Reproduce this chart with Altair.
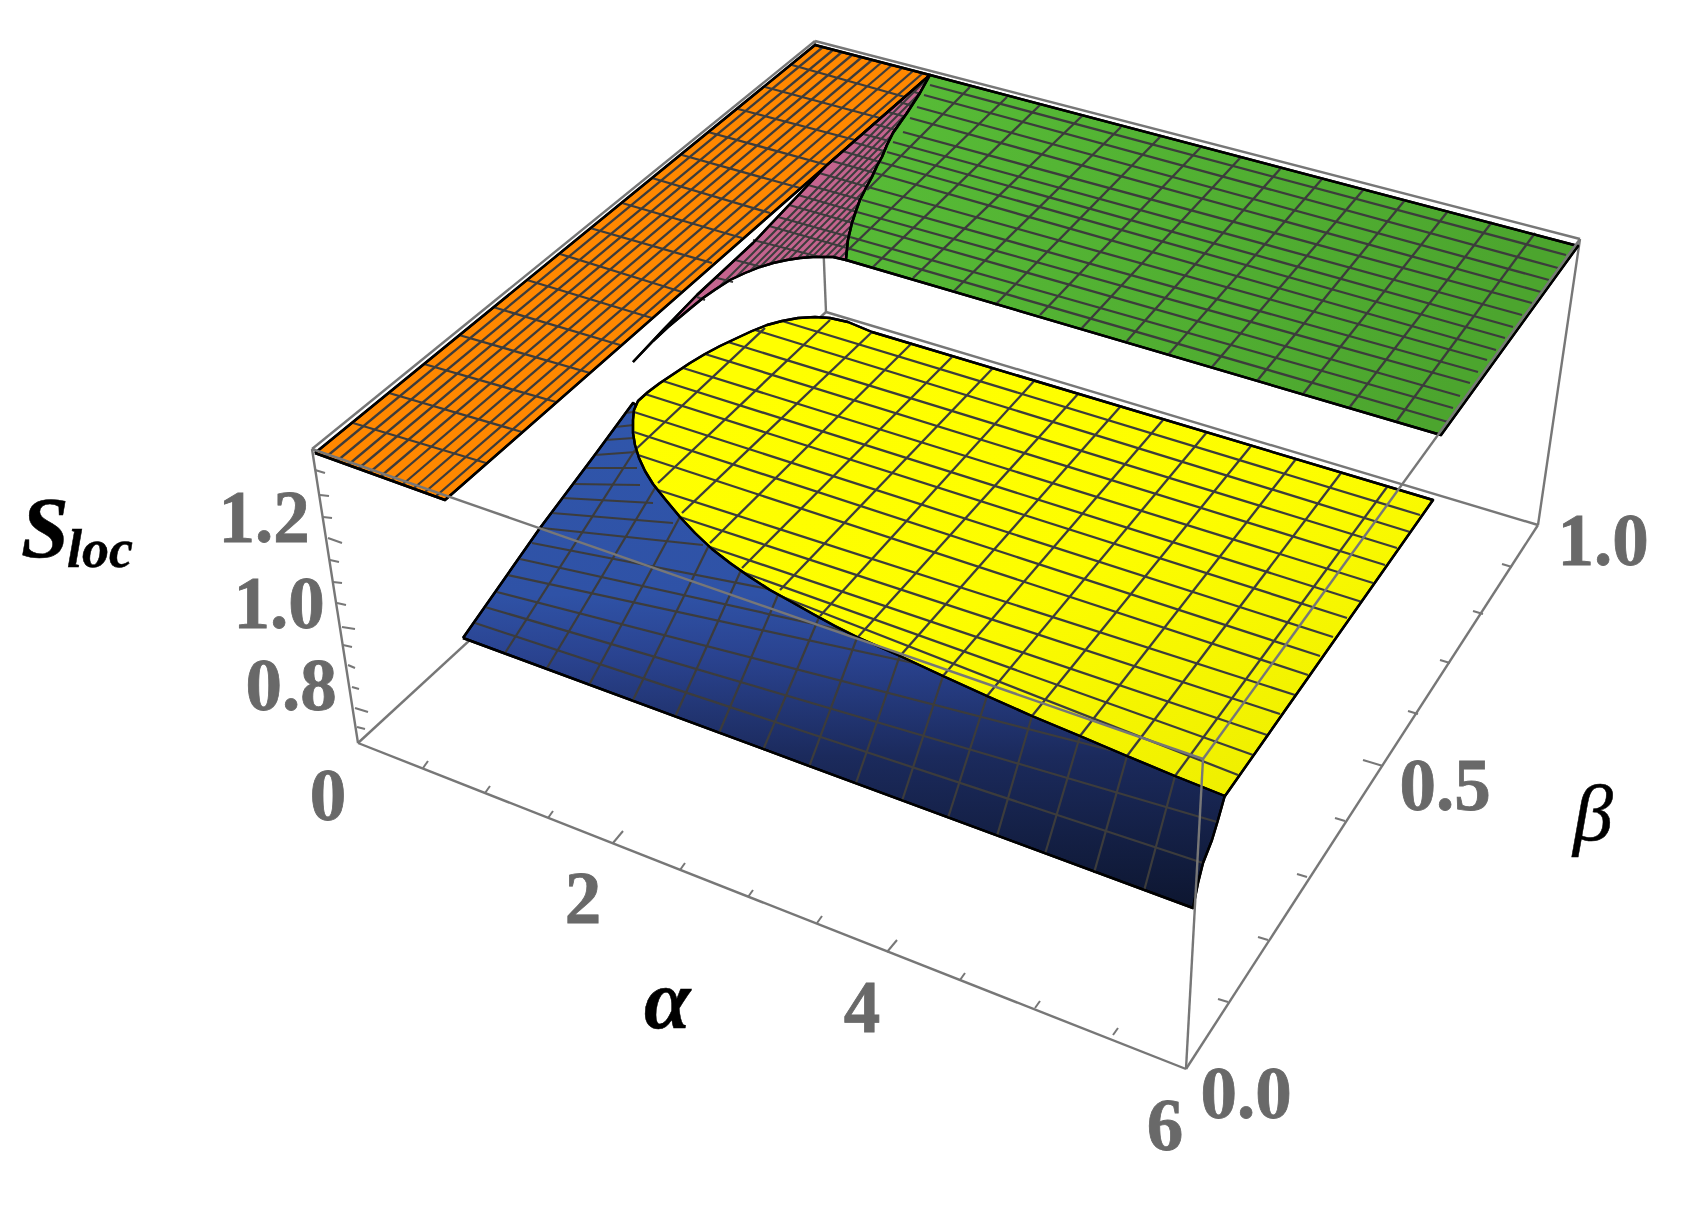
import altair as alt
import pandas as pd

box_back = [(312,449,815,41),(815,41,1580,239),(312,449,358,743),(358,743,826,312),
            (826,312,1538,525),(826,312,815,41),(1580,239,1538,525)]
box_front = [(312,449,1203,759),(1203,759,1580,239),(1203,759,1186,1069),
             (358,743,1186,1069),(1186,1069,1538,525)]

orange_poly = [(315,453),(815,45),(930,75),(445,500)]
orange_beta = [(792,65,905,97),(765,87,880,118),(738,109,855,140),(708,132,827,165),(682,155,800,188),
               (652,178,770,213),(622,203,742,238),(590,228,712,263),(560,254,682,292),(527,280,652,318),
               (493,307,620,345),(459,335,590,373),(424,364,556,402),(389,393,522,432),(353,423,486,463)]
orange_alpha = [(326,457,823,47),(337,461,833,50),(348,465,842,52),(358,469,852,55),(369,473,862,57),
                (380,477,872,60),(391,481,882,62),(402,485,892,65),(413,489,902,68),(424,493,913,71),(435,497,923,73)]

purple_poly = [(633,362),(663,330),(697,295),(753,243),(827,165),(930,75),(920,93),(907,113),(900,123),(893,133),
               (887,145),(882,157),(877,166),(872,177),(866,188),(860,200),(856,211),(852,223),(848,240),(846,260),
               (833,257),(813,257),(800,258),(787,260),(773,263),(760,267),(745,273),(730,280),(716,289),(703,298),
               (692,307),(680,317),(668,327),(653,341)]
purple_alpha = [(717,289,929,77),(735,278,920,93),(749,272,907,113),(760,267,892,135),(769,265,886,148),
                (779,262,880,161),(788,260,873,175),(797,259,865,190),(805,258,859,203),(812,257,855,214),
                (819,257,852,225),(826,257,850,233),(833,257,849,241),(840,258,847,251)]
purple_beta = [(921,83,930,85),(911,91,924,95),(899,102,917,107),(888,112,910,118),(874,124,903,132),
               (863,134,893,142),(853,142,887,152),(842,151,880,162),(832,161,875,173),(819,173,868,187),
               (808,185,862,200),(798,195,857,212),(789,205,853,223),(778,217,850,237),(769,226,847,248),
               (753,240,820,257),(735,260,762,267),(717,278,733,282),(697,297,705,300)]

green_poly = [(930,75),(1578,246),(1441,435),(846,260),(848,240),(852,223),(856,211),(860,200),(866,188),(872,177),
              (877,166),(882,157),(887,145),(893,133),(900,123),(907,113),(920,93)]
green_alpha = [(867,190,970,87),(848,250,1007,97),(872,268,1040,105),(913,278,1082,116),(953,292,1121,127),
               (995,305,1161,136),(1040,315,1201,147),(1081,329,1241,157),(1126,342,1281,168),(1168,355,1322,179),
               (1212,367,1364,189),(1257,381,1405,200),(1303,394,1448,211),(1349,408,1492,222),(1396,422,1535,233)]
green_beta = [(930,85,1566,255),(924,95,1558,268),(917,107,1549,280),(910,118,1541,292),(903,132,1532,303),
              (893,142,1522,315),(887,152,1513,327),(880,162,1505,338),(875,173,1496,350),(868,187,1487,360),
              (862,200,1478,372),(857,212,1470,383),(853,223,1460,396),(850,237,1453,408),(847,248,1448,422)]

blue_poly = [(463,638),(540,528),(597,452),(633,403),(1225,795),(1218,820),(1212,840),(1203,863),(1198,883),(1193,908)]
blue_alpha = [(505,653,635,450),(547,668,658,483),(589,685,682,513),(633,700,710,543),(675,717,742,568),
              (719,733,780,590),(763,750,820,615),(809,767,858,635),(856,783,900,655),(902,801,943,676),
              (948,818,987,696),(997,836,1032,716),(1045,854,1080,736),(1094,873,1127,756),(1144,891,1175,776)]
blue_beta = [(475,623,1203,863),(485,607,1217,822),(497,592,1110,750),(508,575,918,664),(520,559,850,632),
             (532,543,773,590),(542,528,703,545),(552,513,673,523),(563,498,653,503),(573,484,640,485),
             (585,468,637,468),(595,455,636,452),(605,440,634,438),(615,427,634,425),(625,413,633,412)]

yellow_poly = [(872,332),(848,322),(830,318),(815,317),(798,318),(782,321),(767,325),(752,331),(737,338),(720,346),(705,354),
               (690,363),(675,373),(660,383),(648,392),(638,401),(634,410),(633,420),(633,433),(635,445),(639,458),(645,471),
               (653,484),(665,499),(680,517),(695,533),(712,549),(730,563),(750,577),(770,590),(790,601),(813,614),(835,626),
               (857,637),(900,656),(943,676),(987,696),(1032,716),(1080,736),(1127,756),(1175,776),(1225,796),(1433,500)]
yellow_alpha = [(635,450,765,328),(658,483,830,320),(682,513,872,332),(710,543,912,343),(742,568,952,357),
                (780,590,993,368),(820,616,1035,380),(858,637,1078,394),(900,656,1120,407),(943,676,1163,420),
                (987,696,1207,432),(1032,716,1251,446),(1080,736,1296,459),(1127,756,1341,473),(1175,776,1387,487)]
yellow_beta = [(782,321,1420,515),(755,330,1410,532),(728,342,1397,548),(705,354,1385,565),(683,368,1373,583),
               (663,381,1362,602),(645,394,1347,618),(634,412,1333,637),(634,432,1320,656),(638,455,1308,675),
               (658,490,1295,695),(680,517,1280,714),(710,547,1267,735),(742,572,1253,755),(780,596,1238,775)]

ticks = [(423,768,428,761),(485,793,490,786),(548,818,553,811),(613,843,623,831),(680,870,685,863),(748,897,753,890),
         (817,923,822,916),(887,952,897,940),(960,980,965,973),(1035,1008,1040,1001),(1113,1035,1118,1028),
         (1228,1002,1218,999),(1268,940,1258,937),(1307,877,1297,874),(1345,821,1335,818),(1383,766,1363,760),
         (1418,714,1408,711),(1450,663,1440,660),(1483,614,1473,611),(1512,567,1502,564),
         (315,470,325,473),(320,495,329,496),(323,517,332,518),(328,538,342,543),(330,560,339,562),(333,582,342,583),
         (337,603,346,605),(342,627,355,629),(343,645,352,647),(348,665,355,668),(352,687,359,689),(355,708,368,712),(357,727,365,729)]

gray_text = ["1.2","1.0","0.8","0","2","4","6","0.0","0.5","1.0"]
gray_x = [264,279,291,328,583,862,1165,1246,1445,1603]
gray_y = [542,628,710,820,923,1032,1150,1118,810,565]

names = ["S","loc","α","β"]
names_x = [21,67,644,1573]
names_y = [557,567,1028,840]
names_size = [86,54,84,80]
names_weight = ["bold","bold","bold","normal"]

W, H = 1673, 1198
xs = alt.Scale(domain=[8, 8 + W], nice=False, zero=False)
ys = alt.Scale(domain=[8 + H, 8], nice=False, zero=False)

def grad(stops, x1, y1, x2, y2):
    return alt.Gradient(gradient="linear", x1=x1, y1=y1, x2=x2, y2=y2,
                        stops=[alt.GradientStop(offset=o, color=c) for o, c in stops])

def path(verts, **mark):
    rows = [{"x": a, "y": b, "i": i} for i, (a, b) in enumerate(list(verts) + [verts[0]])]
    return alt.Chart(pd.DataFrame(rows)).mark_line(stroke="black", strokeWidth=2.4, strokeJoin="round", **mark).encode(
        x=alt.X("x:Q", scale=xs, axis=None),
        y=alt.Y("y:Q", scale=ys, axis=None),
        order="i:Q")

def segs(items, color, width):
    df = pd.DataFrame(items, columns=["x", "y", "x2", "y2"])
    return alt.Chart(df).mark_rule(color=color, strokeWidth=width).encode(
        x=alt.X("x:Q", scale=xs, axis=None),
        y=alt.Y("y:Q", scale=ys, axis=None),
        x2="x2:Q", y2="y2:Q")

MESH = "#3c3c3c"
BOX = "#777777"
layers = [
    segs(box_back, BOX, 2.4),
    path(orange_poly, fill="#ff8800"),
    segs(orange_alpha, MESH, 2.3), segs(orange_beta, MESH, 2.3), path(orange_poly),
    path(purple_poly, fill="#c4648e"),
    segs(purple_alpha, MESH, 2.0), segs(purple_beta, MESH, 2.0), path(purple_poly),
    path(green_poly, fill=grad([(0, "#58bd37"), (1, "#4ca52e")], 0, 0, 1, 0.3)),
    segs(green_alpha, MESH, 2.3), segs(green_beta, MESH, 2.3), path(green_poly),
    path(blue_poly, fill=grad([(0, "#3056ab"), (0.38, "#2f52a6"), (0.5, "#2a4390"), (0.7, "#1b2a5c"), (1, "#0d1630")], 0.5, 0, 0.5, 1)),
    segs(blue_alpha, MESH, 2.2), segs(blue_beta, MESH, 2.2), path(blue_poly),
    path(yellow_poly, fill=grad([(0, "#ffff00"), (0.5, "#fdfd00"), (1, "#eeee00")], 0.2, 0.1, 0.8, 1)),
    segs(yellow_alpha, MESH, 2.3), segs(yellow_beta, MESH, 2.3), path(yellow_poly),
    segs(box_front, BOX, 2.4),
    segs(ticks, BOX, 2.0),
]

gray_df = pd.DataFrame({"t": gray_text, "x": gray_x, "y": gray_y})
layers.append(alt.Chart(gray_df).mark_text(font="Liberation Serif", fontWeight="bold", fontSize=73,
                                           color="#696969", stroke="#696969", strokeWidth=0.8,
                                           align="center", baseline="alphabetic").encode(
    x=alt.X("x:Q", scale=xs, axis=None), y=alt.Y("y:Q", scale=ys, axis=None), text="t:N"))

for t, a, b, s, w in zip(names, names_x, names_y, names_size, names_weight):
    d = pd.DataFrame({"t": [t], "x": [a], "y": [b]})
    layers.append(alt.Chart(d).mark_text(font="Liberation Serif", fontWeight=w, fontStyle="italic", fontSize=s,
                                         color="black", stroke="black", strokeWidth=0.5,
                                         align="left", baseline="alphabetic").encode(
        x=alt.X("x:Q", scale=xs, axis=None), y=alt.Y("y:Q", scale=ys, axis=None), text="t:N"))

chart = alt.layer(*layers).properties(width=W, height=H, padding=0, autosize=alt.AutoSizeParams(type="none"),
                                      background="white").configure_view(stroke=None)
chart.save("out.html", embed_options={"renderer": "svg", "actions": False})
